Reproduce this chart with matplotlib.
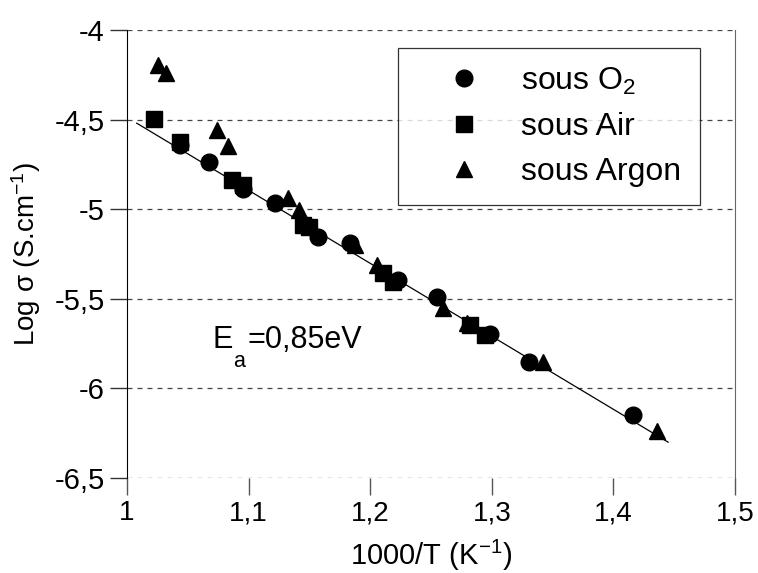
import matplotlib
matplotlib.use("Agg")
import matplotlib.pyplot as plt
from matplotlib.ticker import FuncFormatter

plt.rcParams['font.family'] = ['Liberation Sans', 'DejaVu Sans']
plt.rcParams['mathtext.fontset'] = 'custom'
plt.rcParams['mathtext.rm'] = 'Liberation Sans'
plt.rcParams['mathtext.it'] = 'Liberation Sans'

# sous O2 (cercles)
o2_x = [1.0436, 1.0674, 1.095, 1.1217, 1.157, 1.183, 1.223, 1.255, 1.2985, 1.331, 1.416]
o2_y = [-4.64, -4.737, -4.885, -4.966, -5.155, -5.19, -5.395, -5.49, -5.696, -5.85, -6.15]

# sous Air (carres)
air_x = [1.022, 1.0436, 1.086, 1.095, 1.145, 1.15, 1.2105, 1.219, 1.282, 1.294]
air_y = [-4.497, -4.625, -4.837, -4.865, -5.09, -5.10, -5.356, -5.406, -5.646, -5.70]

# sous Argon (triangles)
ar_x = [1.0255, 1.032, 1.074, 1.083, 1.132, 1.1414, 1.1875, 1.2056, 1.26, 1.28, 1.342, 1.436]
ar_y = [-4.195, -4.24, -4.558, -4.647, -4.94, -5.004, -5.20, -5.31, -5.55, -5.635, -5.85, -6.24]

# droite d'ajustement
fit_x = [1.008, 1.445]
fit_y = [-4.52, -6.30]

xticks = [1.0, 1.1, 1.2, 1.3, 1.4, 1.5]
yticks = [-6.5, -6.0, -5.5, -5.0, -4.5, -4.0]


def virgule(v, pos):
    s = f"{v:g}"
    return s.replace('.', ',')


fig = plt.figure(figsize=(7.58, 5.73), dpi=100)
ax = fig.add_axes([127 / 758, 95 / 573, 608 / 758, 448 / 573])

ax.plot(fit_x, fit_y, color='black', linewidth=0.9, zorder=2)
ax.plot(o2_x, o2_y, linestyle='none', marker='o', markersize=12,
        color='black', label='sous O$_2$', zorder=3)
ax.plot(air_x, air_y, linestyle='none', marker='s', markersize=11,
        color='black', label='sous Air', zorder=3)
ax.plot(ar_x, ar_y, linestyle='none', marker='^', markersize=12,
        color='black', label='sous Argon', zorder=3)

ax.set_xlim(1.0, 1.5)
ax.set_ylim(-6.5, -4.0)
ax.set_xticks(xticks)
ax.set_yticks(yticks)
ax.xaxis.set_major_formatter(FuncFormatter(virgule))
ax.yaxis.set_major_formatter(FuncFormatter(virgule))

ax.yaxis.grid(True, linestyle=(0, (4, 4)), color='#444444', linewidth=0.9)
ax.set_axisbelow(True)

ax.spines['top'].set_visible(False)
ax.spines['bottom'].set_visible(False)
ax.spines['left'].set_color('black')
ax.spines['right'].set_color('#666666')
ax.tick_params(axis='both', direction='out', length=12, width=1,
               color='#555555', pad=4)
ax.tick_params(axis='x', labelsize=20)
ax.tick_params(axis='y', labelsize=21, color='#333333')

ax.set_xlabel('1000/T (K$^{-1}$)', fontsize=21, labelpad=8)
ax.set_ylabel(r'Log σ (S.cm$^{-1}$)', fontsize=20, labelpad=8)

# E_a = 0,85 eV avec indice bas decale
ax.text(1.0707, -5.775, 'E', fontsize=22, va='baseline')
ax.text(1.0872, -5.880, 'a', fontsize=15.5, va='baseline')
ax.text(1.0987, -5.775, '=0,85eV', fontsize=22, va='baseline')

leg = ax.legend(loc='upper left', bbox_to_anchor=(0.446, 0.96, 0.496, 0.0),
                mode='expand', fontsize=23, frameon=True, fancybox=False,
                borderpad=0.55, labelspacing=0.48, handletextpad=0.3,
                handlelength=3.0, borderaxespad=0)
leg.get_frame().set_edgecolor('black')
leg.get_frame().set_linewidth(0.9)

fig.savefig('out.png', dpi=100)
